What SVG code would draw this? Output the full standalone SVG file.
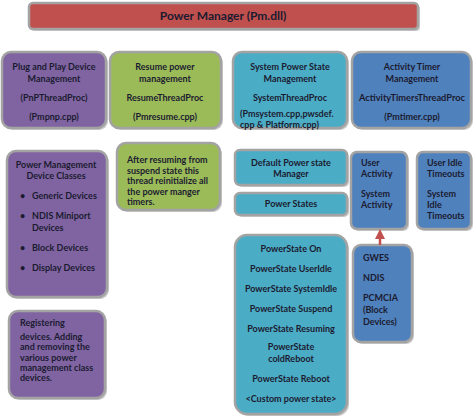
<svg xmlns="http://www.w3.org/2000/svg" width="474" height="418" viewBox="0 0 474 418">
<style>
.b{stroke:#a3a3a3;stroke-width:2.5}
.sh{fill:#c8c8c8}
.red{fill:#c0504d}
.pur{fill:#8064a2}
.grn{fill:#9bbb59}
.cyn{fill:#4bacc6}
.blu{fill:#4f81bd}
text{font-family:Lato,"Liberation Sans",sans-serif;font-weight:bold;font-size:9px;fill:#1b1b30}
.c{text-anchor:middle}
.t{font-size:12px}
</style>
<defs>
<marker id="ah" viewBox="0 0 10 10" refX="5" refY="5" markerWidth="4" markerHeight="4" orient="auto">
<path d="M0,0 L10,5 L0,10 z" fill="#c0504d"/>
</marker>
</defs>
<rect width="474" height="418" fill="#ffffff"/>

<g id="title">
<rect x="31" y="5" width="389" height="26" rx="4" class="sh"/>
<rect x="29" y="3" width="389" height="26" rx="4" class="red b"/>
<text x="223" y="20" class="c t">Power Manager (Pm.dll)</text>
</g>

<g id="pnp">
<rect x="4" y="54" width="104" height="76" rx="9" class="sh"/>
<rect x="2" y="52" width="104" height="76" rx="9" class="pur b"/>
<text x="54" y="70" class="c">Plug and Play Device</text>
<text x="54" y="82" class="c">Management</text>
<text x="54" y="101" class="c">(PnPThreadProc)</text>
<text x="54" y="120" class="c">(Pmpnp.cpp)</text>
</g>

<g id="resume">
<rect x="112" y="54" width="111" height="76" rx="9" class="sh"/>
<rect x="110" y="52" width="111" height="76" rx="9" class="grn b"/>
<text x="165" y="70" class="c">Resume power</text>
<text x="165" y="82" class="c">management</text>
<text x="165" y="101" class="c">ResumeThreadProc</text>
<text x="165" y="120" class="c">(Pmresume.cpp)</text>
</g>

<g id="system">
<rect x="235" y="54" width="114" height="76" rx="9" class="sh"/>
<rect x="233" y="52" width="114" height="76" rx="9" class="cyn b"/>
<text x="290" y="70" class="c">System Power State</text>
<text x="290" y="82" class="c">Management</text>
<text x="290" y="101" class="c">SystemThreadProc</text>
<text x="240" y="117">(Pmsystem.cpp,pwsdef.</text>
<text x="240" y="128">cpp  &amp; Platform.cpp)</text>
</g>

<g id="activity">
<rect x="354" y="54" width="119" height="76" rx="9" class="sh"/>
<rect x="352" y="52" width="119" height="76" rx="9" class="blu b"/>
<text x="412" y="70" class="c">Activity Timer</text>
<text x="412" y="82" class="c">Management</text>
<text x="412" y="101" class="c" textLength="106" lengthAdjust="spacingAndGlyphs">ActivityTimersThreadProc</text>
<text x="412" y="120" class="c">(Pmtimer.cpp)</text>
</g>

<g id="classes">
<rect x="9" y="153" width="100" height="146" rx="9" class="sh"/>
<rect x="7" y="151" width="100" height="146" rx="9" class="pur b"/>
<text x="56" y="168" class="c">Power Management</text>
<text x="56" y="179" class="c">Device Classes</text>
<text x="20" y="199">•</text><text x="32" y="199">Generic Devices</text>
<text x="20" y="219">•</text><text x="32" y="219">NDIS Miniport</text>
<text x="32" y="231">Devices</text>
<text x="20" y="251">•</text><text x="32" y="251">Block Devices</text>
<text x="20" y="271">•</text><text x="32" y="271">Display Devices</text>
</g>

<g id="resumenote">
<rect x="119" y="145" width="103" height="67" rx="9" class="sh"/>
<rect x="117" y="143" width="103" height="67" rx="9" class="grn b"/>
<text x="127" y="163">After resuming from</text>
<text x="127" y="174">suspend state this</text>
<text x="127" y="184">thread reinitialize all</text>
<text x="127" y="195">the power manger</text>
<text x="127" y="205">timers.</text>
</g>

<g id="default">
<rect x="237" y="152" width="112" height="35" rx="5" class="sh"/>
<rect x="235" y="150" width="112" height="35" rx="5" class="cyn b"/>
<text x="291" y="166" class="c">Default Power state</text>
<text x="291" y="177" class="c">Manager</text>
</g>

<g id="powerstates">
<rect x="237" y="195" width="112" height="22" rx="5" class="sh"/>
<rect x="235" y="193" width="112" height="22" rx="5" class="cyn b"/>
<text x="291" y="207" class="c">Power States</text>
</g>

<g id="useractivity">
<rect x="353" y="154" width="56" height="77" rx="6" class="sh"/>
<rect x="351" y="152" width="56" height="77" rx="6" class="blu b"/>
<text x="361" y="166">User</text>
<text x="361" y="177">Activity</text>
<text x="361" y="197">System</text>
<text x="361" y="208">Activity</text>
</g>

<g id="idle">
<rect x="419" y="154" width="54" height="77" rx="6" class="sh"/>
<rect x="417" y="152" width="54" height="77" rx="6" class="blu b"/>
<text x="427" y="166">User Idle</text>
<text x="427" y="177">Timeouts</text>
<text x="427" y="197">System</text>
<text x="427" y="208">Idle</text>
<text x="427" y="219">Timeouts</text>
</g>

<g id="statelist">
<rect x="237" y="237" width="112" height="179" rx="12" class="sh"/>
<rect x="235" y="235" width="112" height="179" rx="12" class="cyn b"/>
<text x="291" y="252" class="c">PowerState On</text>
<text x="291" y="272" class="c">PowerState UserIdle</text>
<text x="291" y="292" class="c">PowerState SystemIdle</text>
<text x="291" y="312" class="c">PowerState Suspend</text>
<text x="291" y="332" class="c">PowerState Resuming</text>
<text x="291" y="350" class="c">PowerState</text>
<text x="291" y="362" class="c">coldReboot</text>
<text x="291" y="382" class="c">PowerState Reboot</text>
<text x="291" y="402" class="c">&lt;Custom power state&gt;</text>
</g>

<g id="gwes">
<rect x="355" y="247" width="59" height="97" rx="8" class="sh"/>
<rect x="353" y="245" width="59" height="97" rx="8" class="blu b"/>
<text x="363" y="261">GWES</text>
<text x="363" y="281">NDIS</text>
<text x="363" y="301">PCMCIA</text>
<text x="363" y="313">(Block</text>
<text x="363" y="325">Devices)</text>
</g>

<g id="register">
<rect x="11" y="313" width="96" height="87" rx="9" class="sh"/>
<rect x="9" y="311" width="96" height="87" rx="9" class="pur b"/>
<text x="20" y="326">Registering</text>
<text x="20" y="340">devices.  Adding</text>
<text x="20" y="350">and removing the</text>
<text x="20" y="361">various power</text>
<text x="20" y="371">management class</text>
<text x="20" y="381">devices.</text>
</g>

<g id="connectors">
<line x1="380" y1="245" x2="380" y2="234" stroke="#c0504d" stroke-width="2.5" marker-end="url(#ah)"/>
</g>
</svg>
